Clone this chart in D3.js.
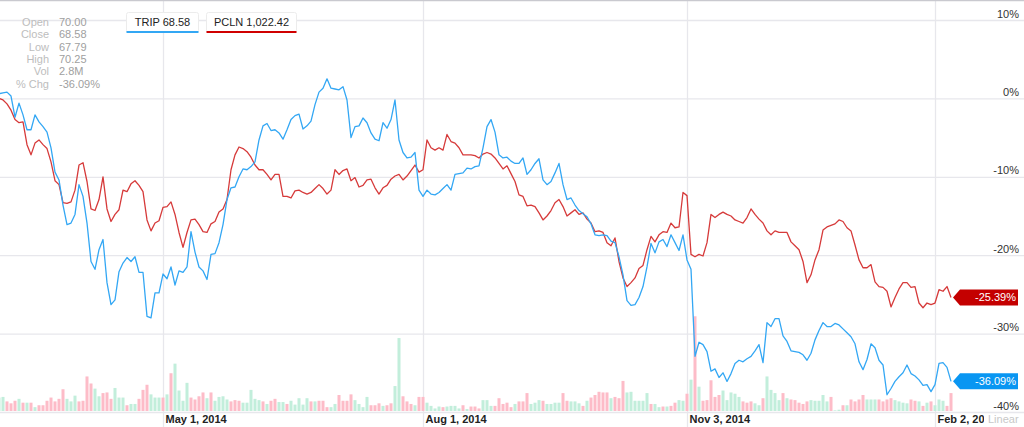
<!DOCTYPE html>
<html><head><meta charset="utf-8">
<script src="https://cdn.jsdelivr.net/npm/d3@7"></script>
<style>
html,body{margin:0;padding:0;background:#fff;}
svg{display:block;font-family:"Liberation Sans",Arial,Helvetica,sans-serif;}
</style></head>
<body>
<svg id="chart" width="1024" height="427"></svg>
<script>
// ---- DATA (trading-day index 0..238, Mar 2014 – Feb 6 2015) ----
const tripPct = [
0.6,0.7,0.8,0.3,-2.4,-0.6,-2.1,-4.0,-4.0,-2.1,
-3.0,-3.6,-4.3,-6.3,-9.4,-10.4,-13.6,-16.1,-15.9,-14.8,
-11.0,-12.5,-15.9,-20.8,-21.8,-19.3,-18.0,-23.5,-26.3,-25.7,
-22.1,-21.0,-20.3,-20.8,-20.2,-22.2,-22.2,-27.8,-28.0,-24.8,
-24.8,-22.4,-23.0,-21.5,-23.8,-22.0,-22.2,-21.5,-17.0,-19.6,
-21.5,-22.0,-23.1,-19.9,-19.8,-18.4,-16.1,-12.9,-11.4,-11.3,
-10.0,-9.0,-9.1,-8.7,-8.1,-5.3,-3.5,-3.2,-4.1,-4.0,
-4.4,-5.2,-4.0,-2.7,-2.2,-2.0,-3.9,-3.5,-2.9,-0.8,
0.8,1.3,2.5,1.3,1.2,1.1,1.5,-0.2,-5.0,-3.6,
-3.5,-2.5,-3.1,-4.4,-5.2,-5.4,-3.1,-3.8,-2.7,-0.2,
-5.3,-6.9,-7.6,-7.5,-6.9,-11.7,-12.5,-11.7,-12.2,-12.3,
-12.0,-11.5,-11.0,-11.7,-9.7,-9.6,-9.5,-8.9,-9.0,-8.7,
-8.6,-6.3,-3.6,-2.7,-4.3,-7.2,-7.6,-7.5,-8.0,-8.3,
-8.3,-7.6,-9.7,-9.1,-8.3,-7.7,-10.4,-11.0,-10.6,-9.5,
-8.3,-11.0,-12.9,-12.7,-13.6,-14.3,-14.7,-15.1,-16.0,-17.4,
-17.5,-17.4,-17.5,-18.2,-18.4,-20.2,-22.5,-25.8,-26.4,-26.3,
-25.4,-24.0,-21.5,-18.5,-19.7,-18.3,-18.0,-18.9,-17.4,-18.4,
-19.4,-17.4,-20.6,-21.8,-32.9,-31.1,-31.4,-32.3,-34.8,-34.5,
-35.6,-35.0,-36.1,-35.1,-33.8,-33.4,-33.6,-33.2,-32.9,-32.2,
-31.4,-33.7,-28.6,-29.1,-28.1,-28.1,-30.3,-31.0,-32.2,-32.3,
-32.4,-32.7,-33.4,-32.5,-30.8,-29.6,-28.6,-29.1,-29.1,-28.7,
-28.9,-29.4,-29.9,-30.4,-31.3,-33.6,-34.6,-33.3,-31.3,-31.8,
-33.4,-34.0,-37.8,-37.0,-36.1,-35.5,-35.0,-34.0,-35.1,-35.4,
-35.9,-36.6,-36.5,-37.4,-36.5,-33.8,-33.7,-34.3,-36.09
];
const pclnPct = [
0.0,-0.2,-0.7,-1.5,-2.7,-3.1,-3.0,-5.9,-7.2,-5.7,
-5.3,-5.9,-6.4,-8.1,-10.5,-11.0,-13.3,-13.4,-13.2,-11.7,
-8.5,-8.2,-10.6,-14.1,-14.3,-12.9,-10.0,-14.1,-15.7,-14.8,
-14.2,-11.7,-11.9,-10.9,-10.5,-11.1,-11.9,-15.5,-16.9,-15.9,
-15.6,-13.9,-13.8,-13.2,-14.8,-17.1,-19.0,-17.1,-15.5,-15.4,
-16.1,-17.0,-17.1,-16.0,-15.7,-14.5,-14.1,-12.9,-9.1,-7.2,
-6.2,-6.4,-6.8,-7.5,-8.5,-9.1,-9.1,-9.7,-10.4,-9.7,
-9.7,-12.5,-12.5,-12.7,-11.8,-11.7,-12.0,-12.2,-12.0,-11.5,
-11.0,-11.5,-12.2,-11.7,-9.1,-9.7,-9.2,-9.0,-10.5,-10.1,
-11.3,-11.1,-10.4,-10.3,-11.4,-12.2,-11.4,-11.1,-10.3,-9.9,
-9.7,-10.4,-9.9,-9.2,-8.5,-9.4,-9.1,-5.3,-6.3,-6.6,
-6.3,-6.6,-4.6,-5.5,-5.7,-6.3,-7.2,-7.2,-7.2,-7.3,
-7.6,-7.1,-6.9,-7.1,-7.6,-8.3,-9.0,-8.6,-9.6,-10.6,
-12.3,-12.5,-13.7,-13.6,-13.8,-14.6,-15.5,-15.0,-14.3,-13.3,
-12.9,-13.8,-15.0,-14.6,-14.2,-14.8,-14.6,-15.4,-15.9,-17.0,
-16.9,-17.1,-18.4,-18.8,-17.8,-20.8,-22.9,-24.0,-23.5,-22.9,
-21.7,-21.3,-19.3,-17.6,-18.3,-17.4,-17.0,-17.1,-15.9,-16.5,
-16.4,-12.0,-12.4,-19.9,-20.2,-19.9,-20.1,-18.4,-14.8,-15.2,
-14.8,-14.5,-14.8,-15.0,-15.5,-15.7,-15.9,-15.2,-14.1,-14.8,
-15.4,-15.9,-16.9,-17.4,-16.9,-17.1,-17.1,-17.1,-18.3,-18.8,
-19.3,-20.8,-23.5,-22.5,-20.6,-19.3,-16.8,-16.4,-16.2,-16.0,
-15.5,-15.7,-16.5,-16.9,-18.7,-20.6,-21.6,-21.6,-21.2,-23.4,
-24.0,-24.1,-24.6,-26.6,-25.4,-24.3,-23.5,-23.5,-24.1,-24.0,
-26.1,-26.7,-26.1,-26.3,-26.1,-24.4,-24.6,-24.0,-25.39
];
// TRIP daily volume, millions
const volumeM = [
2.1,2.2,1.5,1.2,1.6,1.9,1.3,1.3,1.3,0.6,
0.9,0.9,1.6,2.1,1.5,1.9,3.4,1.9,1.5,2.4,
1.5,1.6,5.4,4.3,3.5,2.3,2.8,2.9,1.9,3.6,
2.1,2.1,0.9,1.1,1.1,1.9,3.3,4.1,2.6,2.1,
2.1,2.1,2.6,5.9,7.4,3.2,1.6,4.4,2.1,1.8,
2.3,2.9,2.0,2.9,1.6,2.2,2.3,1.8,1.5,1.7,
1.6,1.3,1.3,3.3,1.9,1.7,1.5,1.1,1.6,1.9,
1.4,1.4,1.1,1.6,1.0,2.0,1.0,2.0,1.5,1.5,
1.6,1.6,0.6,0.6,1.1,2.5,1.6,1.6,2.6,1.7,
1.1,0.6,2.2,0.9,0.9,1.2,0.8,0.9,1.2,3.9,
11.4,2.3,1.5,1.1,0.9,2.2,2.2,1.3,0.8,0.4,
0.7,0.6,0.7,0.8,0.8,0.4,0.9,0.3,0.7,0.7,
0.4,1.7,1.7,0.8,0.8,2.0,1.1,1.3,0.6,1.1,
1.5,1.5,2.8,1.1,1.3,1.7,1.6,1.1,1.1,1.3,
1.3,2.8,1.6,1.5,1.5,1.2,0.8,1.6,2.1,2.5,
3.0,2.9,2.9,2.0,2.2,2.0,4.7,2.9,3.0,1.6,
1.6,1.6,2.8,1.1,1.1,0.6,0.7,0.7,0.8,1.3,
1.7,1.6,2.7,4.9,14.8,3.8,1.6,1.7,4.8,2.2,
2.5,3.2,1.7,2.9,2.7,2.2,1.5,1.3,1.5,1.2,
0.9,2.0,5.4,3.3,2.8,1.7,2.8,2.0,1.8,1.7,
1.3,1.1,1.5,1.7,1.6,1.6,2.5,1.5,2.2,0.1,
0.2,0.9,0.9,1.8,1.5,1.8,2.5,1.8,1.8,1.8,
1.8,1.5,1.8,2.0,1.7,1.5,1.3,1.2,1.8,1.6,
1.5,0.8,1.3,1.5,0.9,1.8,1.6,0.8,2.8
];
// G = up day, P = down day
const volumeDir = (
"GGPPPGPGPG"+"PPPPPPPGGG"+"PPPPGGPPPG"+"GGPGGPPPGG"+"GPGPGGGGPP"+
"PPGPGGGGPP"+"PGGGGGPGPP"+"GGPGGGGGPG"+"PPPGGPPPPG"+"GGGPPPGPPG"+
"GPPPGPPGGG"+"GPGGGGPGPP"+"PGGGPPPPPG"+"PPPGGGPGGG"+"GPPGGGPGPP"+
"PPPGPPPGGG"+"GGGPGGPGPP"+"GGPGPGPPPP"+"PGGGGGPPPG"+"GPGGGGPGPP"+
"PPPGGGGGPG"+"GPGPPPPGGG"+"PPPPGGGGPP"+"GPGPGGGPP").split("");

const yTicks = [10, 0, -10, -20, -30, -40];
const xTickDays = [41, 106, 172, 234];
const xTickLabels = ["May 1, 2014", "Aug 1, 2014", "Nov 3, 2014", "Feb 2, 2015"];
const legendNames = ["TRIP 68.58", "PCLN 1,022.42"];
const infoLabels = ["Open", "Close", "Low", "High", "Vol", "% Chg"];
const infoValues = ["70.00", "68.58", "67.79", "70.25", "2.8M", "-36.09%"];

// ---- CHART ----
const W = 1024, H = 427;
const svg = d3.select("#chart");
const C = {trip:"#33a7f4", pcln:"#d63a3a", tripTag:"#0996f2", pclnTag:"#c40000",
           grid:"#e7e7ec", up:"#c2eedb", down:"#fdbcc8"};

const x = d3.scaleLinear().domain([0, tripPct.length - 1]).range([-1, 951]);
const y = d3.scaleLinear().domain([-40, 10]).range([412, 20]);
const yv = d3.scaleLinear().domain([0, 15]).range([411, 315]);

svg.append("rect").attr("width", W).attr("height", H).attr("fill", "#fff");

const defs = svg.append("defs");
defs.append("clipPath").attr("id", "plotclip").append("rect")
  .attr("x", 0).attr("y", 0).attr("width", 955).attr("height", 414);
defs.append("clipPath").attr("id", "xlabclip").append("rect")
  .attr("x", 0).attr("y", 0).attr("width", 984).attr("height", H);

// horizontal grid + right labels
const yAxis = d3.axisRight(y).tickValues(yTicks).tickSize(W).tickFormat(d => d + "%");
const gy = svg.append("g").call(yAxis);
gy.select(".domain").remove();
gy.selectAll(".tick line").attr("stroke", C.grid).attr("stroke-width", 1.3);
gy.selectAll(".tick text").attr("x", 1019).attr("dy", -3).attr("text-anchor", "end")
  .attr("fill", "#333").style("font-size", "11px").style("font-family", "Liberation Sans, Arial, sans-serif");

// vertical grid + bottom labels (clipped before the "Linear" label like the original)
const xAxis = d3.axisBottom(x).tickValues(xTickDays).tickSize(H)
  .tickFormat((d, i) => xTickLabels[i]);
const gx = svg.append("g").attr("clip-path", "url(#xlabclip)").call(xAxis);
gx.select(".domain").remove();
gx.selectAll(".tick line").attr("stroke", C.grid).attr("stroke-width", 1.3);
gx.selectAll(".tick text").attr("y", 423).attr("dy", 0).attr("x", 2).attr("text-anchor", "start")
  .attr("fill", "#222").style("font-size", "11px").style("font-weight", "bold")
  .style("font-family", "Liberation Sans, Arial, sans-serif");

// top border
svg.append("line").attr("x1", 0).attr("x2", W).attr("y1", 0.5).attr("y2", 0.5)
  .attr("stroke", "#c9c9cf").attr("stroke-width", 1.5);

const plot = svg.append("g").attr("clip-path", "url(#plotclip)");

// volume bars
plot.selectAll("rect.vol").data(volumeM).join("rect").attr("class", "vol")
  .attr("x", (d, i) => x(i) - 1.5).attr("width", 3)
  .attr("y", d => yv(d)).attr("height", d => yv(0) - yv(d))
  .attr("fill", (d, i) => volumeDir[i] === "G" ? C.up : C.down);

// lines
const line = d3.line().x((d, i) => x(i)).y(d => y(d));
plot.append("path").datum(pclnPct).attr("d", line).attr("fill", "none")
  .attr("stroke", C.pcln).attr("stroke-width", 1.3).attr("stroke-linejoin", "round");
plot.append("path").datum(tripPct).attr("d", line).attr("fill", "none")
  .attr("stroke", C.trip).attr("stroke-width", 1.3).attr("stroke-linejoin", "round");

// end tags
function tag(val, color) {
  const cy = y(val), x0 = x(tripPct.length - 1) + 2;
  const g = svg.append("g");
  g.append("path").attr("d",
    `M${x0},${cy} L${x0 + 7},${cy - 8} L${1018},${cy - 8} L${1018},${cy + 8} L${x0 + 7},${cy + 8} Z`)
    .attr("fill", color);
  g.append("text").attr("x", 1016).attr("y", cy + 4).attr("text-anchor", "end")
    .attr("fill", "#fff").style("font-size", "11px").text(val.toFixed(2) + "%");
}
tag(pclnPct[pclnPct.length - 1], C.pclnTag);
tag(tripPct[tripPct.length - 1], C.tripTag);

// "Linear" label at bottom right
svg.append("text").attr("x", 988).attr("y", 423).attr("fill", "#c8c8c8")
  .style("font-size", "11px").text("Linear");

// info panel
const info = svg.append("g").style("font-size", "11px");
infoLabels.forEach((l, i) => {
  const yy = 26 + i * 12.3;
  info.append("text").attr("x", 49).attr("y", yy).attr("text-anchor", "end").attr("fill", "#bdbdbd").text(l);
  info.append("text").attr("x", 59).attr("y", yy).attr("fill", "#a0a0a0").text(infoValues[i]);
});

// legend boxes
const legendX = [126, 206], legendW = [72, 90], legendC = [C.trip, "#d00000"];
legendNames.forEach((n, i) => {
  const g = svg.append("g");
  g.append("rect").attr("x", legendX[i] + 0.5).attr("y", 12.5).attr("width", legendW[i]).attr("height", 20)
    .attr("rx", 2).attr("fill", "#fff").attr("stroke", "#ececec");
  g.append("rect").attr("x", legendX[i] + 0.5).attr("y", 31).attr("width", legendW[i]).attr("height", 2)
    .attr("fill", legendC[i]);
  g.append("text").attr("x", legendX[i] + legendW[i] / 2 + 0.5).attr("y", 26).attr("text-anchor", "middle")
    .attr("fill", "#222").style("font-size", "11px").text(n);
});
</script>
</body></html>
